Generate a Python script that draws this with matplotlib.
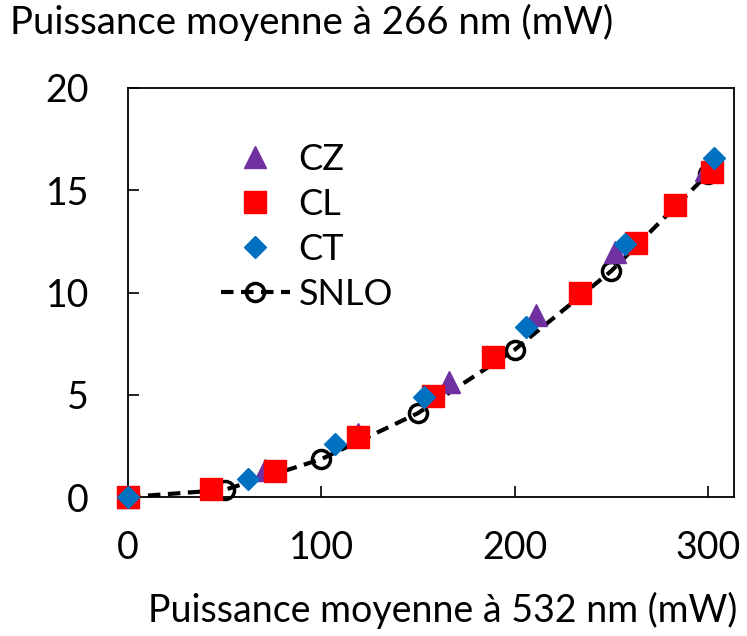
import numpy as np
import matplotlib
matplotlib.use("Agg")
import matplotlib.pyplot as plt

# data
snlo_x = [0, 50, 100, 150, 200, 250, 300]
snlo_y = [0, 0.35, 1.85, 4.1, 7.2, 11.05, 15.8]

cz_x = [0, 71, 119, 166, 211, 252, 299]
cz_y = [0, 1.3, 3.1, 5.6, 8.9, 12.0, 16.0]

cl_x = [0, 43, 76, 119, 158, 189, 234, 263, 283, 302]
cl_y = [0, 0.4, 1.25, 2.95, 4.95, 6.85, 10.0, 12.4, 14.3, 15.9]

ct_x = [0, 62, 107, 153, 206, 257, 303]
ct_y = [0, 0.9, 2.6, 4.9, 8.3, 12.35, 16.6]

plt.rcParams['font.family'] = ['Lato', 'DejaVu Sans']
plt.rcParams['font.size'] = 27

fig = plt.figure(figsize=(7.47, 6.36), dpi=100)
ax = fig.add_axes([128/747, 1-497/636, (734-128)/747, (497-88)/636])

l_snlo, = ax.plot(snlo_x, snlo_y, ls=(0, (3, 1.8)), lw=3, color='black',
                  marker='o', ms=13, mfc='none', mec='black', mew=2.5,
                  clip_on=False, zorder=2, label='SNLO')
l_cz, = ax.plot(cz_x, cz_y, ls='none', marker='^', ms=16, color='#7030A0',
                clip_on=False, zorder=3, label='CZ')
l_cl, = ax.plot(cl_x, cl_y, ls='none', marker='s', ms=15.5, color='#FF0000',
                clip_on=False, zorder=4, label='CL')
l_ct, = ax.plot(ct_x, ct_y, ls='none', marker='D', ms=11.5, color='#0070C0',
                clip_on=False, zorder=5, label='CT')

ax.set_xlim(0, 313.5)
ax.set_ylim(0, 20)
ax.set_xticks([0, 100, 200, 300])
ax.set_yticks([0, 5, 10, 15, 20])
ax.tick_params(direction='in', length=8, width=1.2, pad=24)
ax.tick_params(axis='y', pad=28)
for s in ax.spines.values():
    s.set_linewidth(1.3)

leg = ax.legend(handles=[l_cz, l_cl, l_ct, l_snlo], loc='upper left',
                bbox_to_anchor=(0.10, 0.945), frameon=False,
                handlelength=1.9, handletextpad=0.25, labelspacing=0.33,
                fontsize=26)

fig.text(10/747, 1-22/636, "Puissance moyenne à 266 nm (mW)", va='center', ha='left',
         fontsize=27.6)
fig.text(148/747, 1-610/636, "Puissance moyenne à 532 nm (mW)", va='center', ha='left')

plt.savefig("out.png", dpi=100)
